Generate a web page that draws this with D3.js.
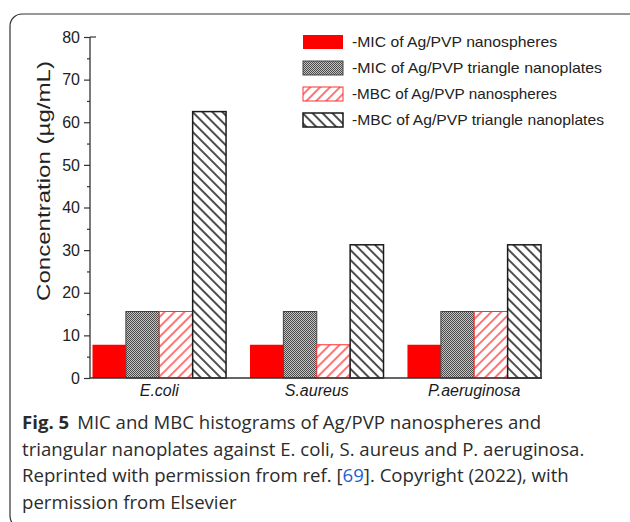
<!DOCTYPE html>
<html><head><meta charset="utf-8">
<script src="https://cdn.jsdelivr.net/npm/d3@7"></script>
<style>html,body{margin:0;padding:0;background:#fff;}svg{display:block;}</style>
</head><body>
<svg id="chart" width="630" height="522"></svg>
<script>
const categories = ["E.coli", "S.aureus", "P.aeruginosa"];
const seriesNames = ["-MIC of Ag/PVP nanospheres", "-MIC of Ag/PVP triangle nanoplates", "-MBC of Ag/PVP nanospheres", "-MBC of Ag/PVP triangle nanoplates"];
const micSpheres = [7.8, 7.8, 7.8];
const micPlates = [15.6, 15.6, 15.6];
const mbcSpheres = [15.6, 7.8, 15.6];
const mbcPlates = [62.5, 31.25, 31.25];
const yTicks = [0, 10, 20, 30, 40, 50, 60, 70, 80];
const yMinorTicks = [5, 15, 25, 35, 45, 55, 65, 75];
const yTitle = "Concentration (\u00b5g/mL)";

const series = [micSpheres, micPlates, mbcSpheres, mbcPlates];
const fills = ["#ff0000", "url(#dots)", "url(#redHatch)", "url(#blackHatch)"];
const strokes = ["none", "#444", "#ff3030", "#1a1a1a"];

const svg = d3.select("#chart");
const defs = svg.append("defs");

const pd = defs.append("pattern").attr("id", "dots").attr("patternUnits", "userSpaceOnUse").attr("width", 2).attr("height", 2);
pd.append("rect").attr("width", 2).attr("height", 2).attr("fill", "#c4c4c4");
pd.append("rect").attr("width", 1).attr("height", 1).attr("fill", "#4a4a4a");
pd.append("rect").attr("x", 1).attr("y", 1).attr("width", 1).attr("height", 1).attr("fill", "#4a4a4a");

function hatch(id, color, angle, w) {
  const p = defs.append("pattern").attr("id", id).attr("patternUnits", "userSpaceOnUse")
    .attr("width", 7).attr("height", 7).attr("patternTransform", `rotate(${angle})`);
  p.append("rect").attr("width", 7).attr("height", 7).attr("fill", "#fff");
  p.append("line").attr("x1", 1).attr("x2", 1).attr("y1", 0).attr("y2", 7).attr("stroke", color).attr("stroke-width", w);
}
hatch("redHatch", "#ff3a3a", 45, 1.4);
hatch("blackHatch", "#222", -45, 1.6);

svg.append("rect").attr("x", 10).attr("y", 14).attr("width", 640).attr("height", 514).attr("rx", 12)
  .attr("fill", "none").attr("stroke", "#333").attr("stroke-width", 1.2);

const x0 = d3.scaleBand().domain(categories).range([92.5, 541]).paddingInner(0.152).paddingOuter(0);
const x1 = d3.scaleBand().domain(d3.range(4)).range([0, x0.bandwidth()]).padding(0);
const y = d3.scaleLinear().domain([0, 80]).range([378, 37]);

const g = svg.append("g");
categories.forEach((c, ci) => {
  series.forEach((s, si) => {
    g.append("rect")
      .attr("x", x0(c) + x1(si))
      .attr("y", y(s[ci]))
      .attr("width", x1.bandwidth())
      .attr("height", y(0) - y(s[ci]))
      .attr("fill", fills[si])
      .attr("stroke", strokes[si])
      .attr("stroke-width", si === 3 ? 1.5 : 1);
  });
});

const yAxis = d3.axisLeft(y).tickValues(yTicks).tickSize(6).tickPadding(4);
const ya = svg.append("g").attr("transform", "translate(90,0)").call(yAxis);
ya.select(".domain").attr("stroke", "#333").attr("stroke-width", 1.3).attr("d", `M0,${y(80)}V${y(0)}`);
ya.selectAll(".tick line").attr("stroke", "#333").attr("stroke-width", 1.2);
ya.selectAll(".tick text").attr("font-family", "Liberation Sans, Arial, sans-serif").attr("font-size", 16).attr("fill", "#222");
const yMinor = d3.axisLeft(y).tickValues(yMinorTicks).tickSize(3).tickFormat("");
const ym = svg.append("g").attr("transform", "translate(90,0)").call(yMinor);
ym.select(".domain").remove();
ym.selectAll(".tick line").attr("stroke", "#333").attr("stroke-width", 1.2);
svg.append("line").attr("x1", 90).attr("x2", 96).attr("y1", y(80)).attr("y2", y(80)).attr("stroke", "#333").attr("stroke-width", 1.2);

const xAxis = d3.axisBottom(x0).tickSize(0).tickPadding(6);
const xa = svg.append("g").attr("transform", `translate(0,${y(0)})`).call(xAxis);
xa.select(".domain").attr("stroke", "#333").attr("stroke-width", 1.5).attr("d", "M90,0H542");
xa.selectAll(".tick text").attr("font-family", "Liberation Sans, Arial, sans-serif").attr("font-size", 16)
  .attr("font-style", "italic").attr("fill", "#1a1a1a").attr("dy", "0.75em");

svg.append("text").attr("transform", "translate(50,181) rotate(-90)").attr("text-anchor", "middle")
  .attr("font-family", "Liberation Sans, Arial, sans-serif").attr("font-size", 18).attr("fill", "#222")
  .attr("textLength", 240).attr("lengthAdjust", "spacingAndGlyphs").text(yTitle);

const legendY = d3.scalePoint().domain(d3.range(4)).range([42, 120]);
const legendLen = [205, 250, 205, 252];
seriesNames.forEach((n, i) => {
  svg.append("rect").attr("x", 303).attr("y", legendY(i) - 7).attr("width", 40).attr("height", 14)
    .attr("fill", fills[i]).attr("stroke", strokes[i]).attr("stroke-width", i === 3 ? 1.5 : 1);
  svg.append("text").attr("x", 352).attr("y", legendY(i) + 5)
    .attr("font-family", "Liberation Sans, Arial, sans-serif").attr("font-size", 15).attr("fill", "#222")
    .attr("textLength", legendLen[i]).attr("lengthAdjust", "spacingAndGlyphs").text(n);
});

const cap = svg.append("g").attr("font-family", "Open Sans, sans-serif").attr("font-size", 18.6).attr("fill", "#2b2b2b");
const l1 = cap.append("text").attr("x", 22).attr("y", 429);
l1.append("tspan").attr("font-weight", "bold").text("Fig. 5");
l1.append("tspan").attr("dx", 8).text("MIC and MBC histograms of Ag/PVP nanospheres and");
cap.append("text").attr("x", 22).attr("y", 455.5).text("triangular nanoplates against E. coli, S. aureus and P. aeruginosa.");
const l3 = cap.append("text").attr("x", 22).attr("y", 482);
l3.append("tspan").text("Reprinted with permission from ref. [");
l3.append("tspan").attr("fill", "#1f5fd0").text("69");
l3.append("tspan").text("]. Copyright (2022), with");
cap.append("text").attr("x", 22).attr("y", 508.5).text("permission from Elsevier");
</script>
</body></html>
